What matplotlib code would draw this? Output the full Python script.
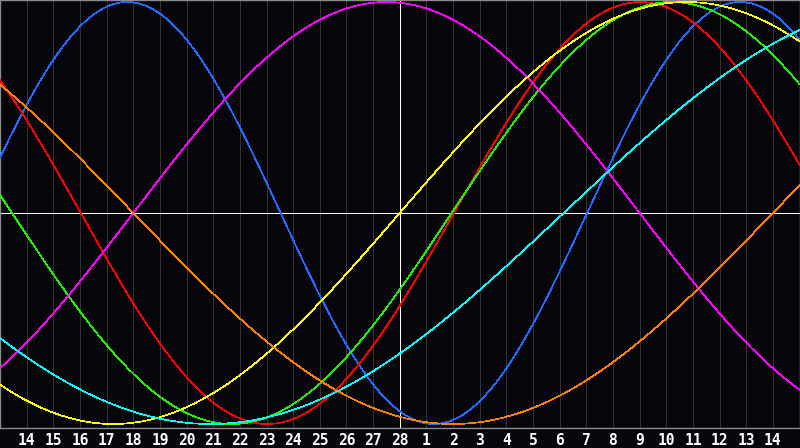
import numpy as np
import matplotlib
matplotlib.use('Agg')
import matplotlib.pyplot as plt

# day labels under each grid line (14 Feb .. 28 Feb, 1 Mar .. 14 Mar)
day_labels = [14, 15, 16, 17, 18, 19, 20, 21, 22, 23, 24, 25, 26, 27, 28,
              1, 2, 3, 4, 5, 6, 7, 8, 9, 10, 11, 12, 13, 14]
today_index = 15

# cycles: length in days and day (grid index) of the peak
cycle_len = [23, 28, 33, 38, 43, 48, 53]
peak_day = [4.78, 24.03, 25.2, 14.5, 25.75, -7.0, 34.4]
colors = ['#1e6cff', '#ff0000', '#22f000', '#ff00ff', '#ffff00', '#ff8000', '#00ffff']

bg = '#06050a'
fig = plt.figure(figsize=(8, 4.48), dpi=100, facecolor=bg)
ax = fig.add_axes([0, 20.5 / 448, 799.5 / 800, 427 / 448], facecolor=bg)

n_days = len(day_labels) + 1
ax.set_xlim(0, n_days)
ax.set_ylim(-1 - 3.5 / 211, 1 + 1.5 / 211)

for k in range(1, n_days):
    if k != today_index:
        ax.axvline(k, color='#333333', lw=0.5, antialiased=False, zorder=1)
ax.axvline(today_index, color='white', lw=0.5, antialiased=False, zorder=2)
ax.axhline(0, color='white', lw=0.5, antialiased=False, zorder=2)

t = np.linspace(0, n_days, 1601)
for L, p, c in zip(cycle_len, peak_day, colors):
    ax.plot(t, np.cos(2 * np.pi * (t - p) / L), color=c, lw=0.5, antialiased=False, zorder=3)

ax.set_xticks(range(1, n_days))
ax.set_xticklabels([str(d) for d in day_labels], color='white', fontsize=10.5,
                   fontweight='bold', family='DejaVu Sans Mono')
ax.tick_params(axis='x', length=0, pad=4)
ax.set_yticks([])
for s in ax.spines.values():
    s.set_color('#8a8a8a')
    s.set_linewidth(1.0)

fig.savefig('out.png', dpi=100, facecolor=bg)
